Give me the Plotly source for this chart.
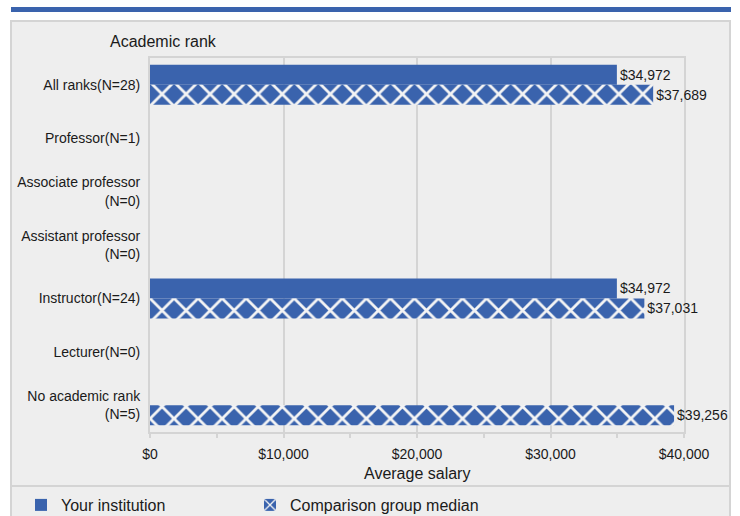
import plotly.graph_objects as go

categories = ["All ranks(N=28)", "Professor(N=1)", "Associate professor<br>(N=0)",
              "Assistant professor<br>(N=0)", "Instructor(N=24)", "Lecturer(N=0)",
              "No academic rank<br>(N=5)"]
your_institution = [34972, None, None, None, 34972, None, None]
comparison_median = [37689, None, None, None, 37031, None, 39256]
x_tick_values = [0, 10000, 20000, 30000, 40000]
x_tick_labels = ["$0", "$10,000", "$20,000", "$30,000", "$40,000"]

BLUE = "#3a63ad"
GRID = "#d4d4d4"
FONT = "Liberation Sans, Arial, sans-serif"

# plot area pixel geometry
L, R, T, B = 150, 684, 58, 432
W, H = R - L, B - T

def px(xp):
    return (xp - L) / W

def py(yp):
    return (B - yp) / H

fig = go.Figure()
fig.add_trace(go.Bar(
    name="Your institution", y=categories, x=your_institution, orientation="h",
    marker=dict(color=BLUE, line=dict(width=0)),
    texttemplate="$%{x:,}", textposition="outside", cliponaxis=False,
    constraintext="none",
    textfont=dict(size=14, color="#1a1a1a", family=FONT),
    hoverinfo="skip",
))
fig.add_trace(go.Bar(
    name="Comparison group median", y=categories, x=comparison_median, orientation="h",
    marker=dict(color=BLUE, line=dict(width=0),
                pattern=dict(shape="x", fgcolor="#f4f4f4", bgcolor=BLUE, fgopacity=1,
                             size=17, solidity=0.3, fillmode="overlay")),
    texttemplate="$%{x:,}", textposition="outside", cliponaxis=False,
    constraintext="none",
    textfont=dict(size=14, color="#1a1a1a", family=FONT),
    hoverinfo="skip",
))

shapes = [
    # outer panel
    dict(type="rect", xref="paper", yref="paper", x0=px(11), x1=px(730), y0=py(540), y1=py(21),
         fillcolor="#eeeeee", line=dict(color=GRID, width=2), layer="below"),
    # top blue rule
    dict(type="rect", xref="paper", yref="paper", x0=px(11), x1=px(731), y0=py(12), y1=py(7),
         fillcolor=BLUE, line=dict(width=0), layer="below"),
    # legend separator
    dict(type="line", xref="paper", yref="paper", x0=px(11), x1=px(730), y0=py(486), y1=py(486),
         line=dict(color=GRID, width=2), layer="below"),
]

annotations = [
    dict(text="Academic rank", xref="paper", yref="paper", x=px(108), y=py(41),
         xanchor="left", yanchor="middle", showarrow=False,
         font=dict(size=16, color="#1a1a1a", family=FONT)),
    dict(text="Average salary", xref="paper", yref="paper", x=px(417), y=py(473),
         xanchor="center", yanchor="middle", showarrow=False,
         font=dict(size=16, color="#1a1a1a", family=FONT)),
]

fig.update_layout(
    width=740, height=516,
    margin=dict(l=L, r=740 - R, t=T, b=516 - B, pad=0, autoexpand=False),
    paper_bgcolor="white", plot_bgcolor="rgba(0,0,0,0)",
    barmode="group", bargap=0.25, bargroupgap=0,
    font=dict(family=FONT, color="#1a1a1a"),
    shapes=shapes, annotations=annotations,
    showlegend=True,
    legend=dict(orientation="h", x=px(21), y=py(488), xanchor="left", yanchor="top",
                font=dict(size=16, color="#1a1a1a", family=FONT),
                bgcolor="rgba(0,0,0,0)", entrywidth=184, traceorder="normal"),
    xaxis=dict(range=[0, 40000], tickvals=x_tick_values, ticktext=x_tick_labels,
               showgrid=True, gridcolor=GRID, gridwidth=2,
               showline=True, linecolor=GRID, linewidth=2, mirror=True,
               ticks="outside", ticklen=4, tickcolor=GRID, tickwidth=2,
               minor=dict(dtick=5000, ticks="outside", ticklen=4, tickcolor=GRID, tickwidth=2,
                          showgrid=False),
               tickfont=dict(size=14, color="#1a1a1a", family=FONT),
               ticklabelstandoff=4, layer="below traces",
               zeroline=False, fixedrange=True),
    yaxis=dict(autorange="reversed", showgrid=False,
               showline=True, linecolor=GRID, linewidth=2, mirror=True,
               ticks="", ticklabelstandoff=5, layer="below traces",
               tickfont=dict(size=14, color="#1a1a1a", family=FONT),
               zeroline=False, fixedrange=True),
)

fig.write_html("out.html", config={"displayModeBar": False},
               post_script="document.body.style.margin='0px';document.body.style.overflow='hidden';")
